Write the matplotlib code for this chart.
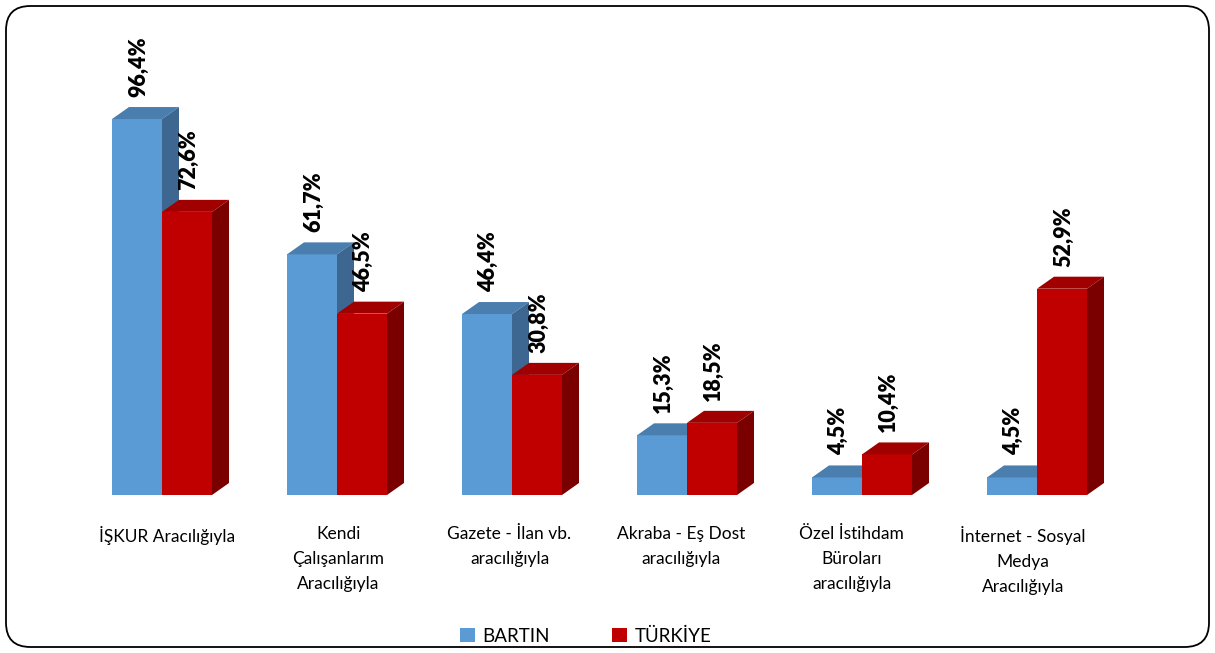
import matplotlib
matplotlib.use('Agg')
import matplotlib.pyplot as plt
from matplotlib.patches import Polygon, FancyBboxPatch, Patch

plt.rcParams['font.family'] = ['Lato', 'DejaVu Sans']

categories = ['İŞKUR Aracılığıyla', 'Kendi\nÇalışanlarım\nAracılığıyla',
              'Gazete - İlan vb.\naracılığıyla', 'Akraba - Eş Dost\naracılığıyla',
              'Özel İstihdam\nBüroları\naracılığıyla', 'İnternet - Sosyal\nMedya\nAracılığıyla']
bartin = [96.4, 61.7, 46.4, 15.3, 4.5, 4.5]
turkiye = [72.6, 46.5, 30.8, 18.5, 10.4, 52.9]
series_names = ['BARTIN', 'TÜRKİYE']

# front, top, side colours for each series
colors = {
    'BARTIN': ('#5B9BD5', '#4A7EAE', '#3D6790'),
    'TÜRKİYE': ('#C00000', '#A00000', '#7A0000'),
}

W, H = 1215, 653
fig = plt.figure(figsize=(W / 100, H / 100), dpi=100)

# axes placed so that one group = 175 px, 1% = 3.9 px
px_unit = 175.0
ax = fig.add_axes([0, (H - 495) / H, 1, 110 * 3.9 / H])
ax.set_xlim(-162 / px_unit, (W - 162) / px_unit)
ax.set_ylim(0, 110)
ax.axis('off')

bw = 50 / px_unit         # bar width in data units
dx = 17 / px_unit         # depth offset x
dy = 12 / 3.9             # depth offset y (in %)


def bar3d(x0, h, front, top, side):
    ax.add_patch(Polygon([(x0, 0), (x0 + bw, 0), (x0 + bw, h), (x0, h)],
                         closed=True, facecolor=front, edgecolor='none'))
    ax.add_patch(Polygon([(x0, h), (x0 + dx, h + dy), (x0 + bw + dx, h + dy), (x0 + bw, h)],
                         closed=True, facecolor=top, edgecolor='none'))
    ax.add_patch(Polygon([(x0 + bw, 0), (x0 + bw + dx, dy), (x0 + bw + dx, h + dy), (x0 + bw, h)],
                         closed=True, facecolor=side, edgecolor='none'))


for i in range(len(categories)):
    for j, (name, vals) in enumerate(zip(series_names, [bartin, turkiye])):
        x0 = i - bw + j * bw
        f, t, s = colors[name]
        bar3d(x0, vals[i], f, t, s)
        ax.text(x0 + bw / 2 + 0.01, vals[i] + dy + 2.6, f'{vals[i]:.1f}%'.replace('.', ','),
                rotation=90, ha='center', va='bottom', fontsize=15.5, fontweight='heavy',
                color='black')

for i, cat in enumerate(categories):
    ax.text(i * 0.978 + 0.03, -8.0, cat, ha='center', va='top', fontsize=12.5,
            linespacing=1.7, color='black', clip_on=False)

handles = [Patch(facecolor=colors[n][0], edgecolor='none') for n in series_names]
fig.legend(handles, series_names, loc='center', bbox_to_anchor=(0.482, (H - 636) / H),
           ncol=2, frameon=False, fontsize=13.5, handlelength=0.8, handleheight=0.8,
           handletextpad=0.4, columnspacing=3.3)

border = FancyBboxPatch((6 / W, 6 / H), (W - 12) / W, (H - 12) / H,
                        boxstyle='round,pad=0,rounding_size=0.02',
                        transform=fig.transFigure, facecolor='none',
                        edgecolor='black', linewidth=1.3, mutation_aspect=W / H)
fig.patches.append(border)

fig.savefig('out.png', dpi=100)
